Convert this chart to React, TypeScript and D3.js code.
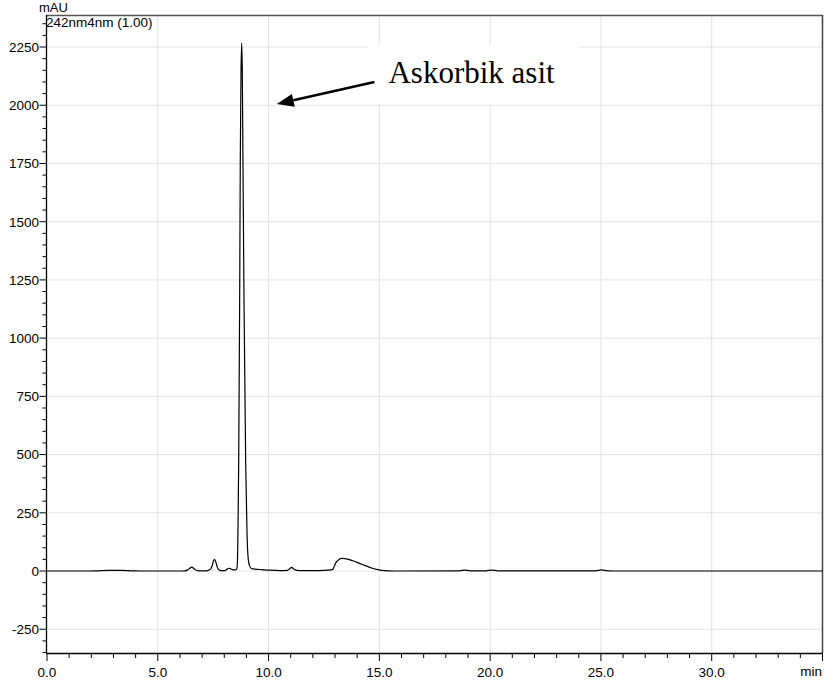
import React from "react";
import * as d3 from "d3";

// retention time (min) and detector response (mAU)
const timeMin = [
  0, 1.5, 2.2, 2.8, 3.3, 3.9, 4.5, 6.0, 6.2, 6.35, 6.45, 6.53, 6.6, 6.68, 6.8,
  7.0, 7.25, 7.38, 7.46, 7.52, 7.56, 7.6, 7.66, 7.72, 7.8, 7.95, 8.08, 8.18,
  8.23, 8.3, 8.4, 8.5, 8.56, 8.59, 8.62, 8.651, 8.696, 8.723, 8.755, 8.786,
  8.815, 8.845, 8.89, 8.967, 9.03, 9.084, 9.15, 9.24, 9.4, 9.7, 10.0, 10.5,
  10.85, 10.95, 11.04, 11.12, 11.22, 11.4, 12.0, 12.5, 12.8, 12.9, 12.97,
  13.07, 13.18, 13.3, 13.45, 13.6, 13.8, 14.0, 14.2, 14.43, 14.65, 14.88,
  15.1, 15.4, 16.0, 18.6, 18.86, 19.1, 19.8, 20.07, 20.35, 24.75, 25.03, 25.3,
  26.0, 35.0,
];
const signalMau = [
  0, 0, 1, 3, 3, 1, 0, 0, 1, 5, 12, 17, 13, 6, 2,
  1, 2, 8, 25, 45, 50, 44, 25, 9, 3, 1, 4, 11,
  12, 9, 5, 5, 8, 30, 180, 464, 1177, 1750, 2130, 2267,
  2140, 1750, 1177, 464, 150, 50, 20, 10, 8, 6, 4, 2,
  3, 10, 16, 10, 4, 2, 2, 3, 5, 7, 22,
  40, 50, 54, 53, 50, 44, 37, 29, 21, 13, 7,
  3, 1, 0, 1, 4, 1, 1, 4, 1, 1, 5, 1,
  0, 0,
];

const xTickValues = [0, 5, 10, 15, 20, 25, 30];
const xTickLabels = ["0.0", "5.0", "10.0", "15.0", "20.0", "25.0", "30.0"];
const yTickValues = [-250, 0, 250, 500, 750, 1000, 1250, 1500, 1750, 2000, 2250];
const yTickLabels = ["-250", "0", "250", "500", "750", "1000", "1250", "1500", "1750", "2000", "2250"];

const peakLabel = "Askorbik asit";

const W = 824;
const H = 689;
const font = "'Liberation Sans', Arial, sans-serif";

export default function App() {
  const x = d3.scaleLinear().domain([0, 35]).range([47, 822.5]);
  const y = d3.scaleLinear().domain([-352, 2387.5]).range([653, 15]);

  const points: [number, number][] = timeMin.map((t, i) => [t, signalMau[i]]);
  const line = d3
    .line<[number, number]>()
    .x((d) => x(d[0]))
    .y((d) => y(d[1]))
    .curve(d3.curveMonotoneX);

  const xMinor = d3.range(0, 36, 1).filter((t) => t % 5 !== 0);
  const yMinor = d3.range(-350, 2400, 50).filter((v) => v % 250 !== 0);

  // annotation, placed in data units
  const tip: [number, number] = [x(10.37), y(2005)];
  const tail: [number, number] = [x(14.78), y(2100)];
  const ang = Math.atan2(tail[1] - tip[1], tail[0] - tip[0]);
  const headLen = 17;
  const headHalf = 6.5;
  const bx = tip[0] + headLen * Math.cos(ang);
  const by = tip[1] + headLen * Math.sin(ang);
  const head = [
    tip,
    [bx - headHalf * Math.sin(ang), by + headHalf * Math.cos(ang)],
    [bx + headHalf * Math.sin(ang), by - headHalf * Math.cos(ang)],
  ]
    .map((p) => p.join(","))
    .join(" ");

  return (
    <svg
      width={W}
      height={H}
      style={{ position: "absolute", left: 0, top: 0, background: "#fff" }}
    >
      {/* grid */}
      {xTickValues
        .filter((t) => t > 0)
        .map((t) => (
          <line key={"gx" + t} x1={x(t)} x2={x(t)} y1={15} y2={653} stroke="#e3e3e3" strokeWidth={1} />
        ))}
      {yTickValues.map((v) => (
        <line key={"gy" + v} x1={47} x2={822} y1={y(v)} y2={y(v)} stroke="#e3e3e3" strokeWidth={1} />
      ))}

      {/* label backdrop */}
      <rect
        x={x(14.46)}
        y={y(2259)}
        width={x(24.0) - x(14.46)}
        height={y(2005) - y(2259)}
        fill="#fff"
      />

      {/* frame */}
      <line x1={46} x2={823} y1={15.5} y2={15.5} stroke="#555" strokeWidth={1.3} />
      <line x1={822.5} x2={822.5} y1={15} y2={653} stroke="#444" strokeWidth={1.5} />
      <line x1={46.5} x2={46.5} y1={15} y2={653.5} stroke="#000" strokeWidth={1.3} />
      <line x1={46} x2={823} y1={653.5} y2={653.5} stroke="#000" strokeWidth={1.3} />

      {/* y ticks */}
      {yTickValues.map((v, i) => (
        <g key={"yt" + v}>
          <line x1={39.5} x2={46} y1={y(v)} y2={y(v)} stroke="#000" />
          <text
            x={39}
            y={y(v)}
            dy="0.36em"
            textAnchor="end"
            fontFamily={font}
            fontSize={13.5}
            fill="#000"
          >
            {yTickLabels[i]}
          </text>
        </g>
      ))}
      {yMinor.map((v) => (
        <line key={"ym" + v} x1={42.5} x2={46} y1={y(v)} y2={y(v)} stroke="#000" />
      ))}

      {/* x ticks */}
      {xTickValues.map((t, i) => (
        <g key={"xt" + t}>
          <line x1={x(t)} x2={x(t)} y1={653} y2={661} stroke="#000" />
          <text
            x={x(t)}
            y={676.5}
            textAnchor="middle"
            fontFamily={font}
            fontSize={13.5}
            fill="#000"
          >
            {xTickLabels[i]}
          </text>
        </g>
      ))}
      <line x1={x(35)} x2={x(35)} y1={653} y2={661} stroke="#000" />
      {xMinor.map((t) => (
        <line key={"xm" + t} x1={x(t)} x2={x(t)} y1={653} y2={658} stroke="#000" />
      ))}
      <text x={822} y={675.5} textAnchor="end" fontFamily={font} fontSize={13.5} fill="#000">
        min
      </text>

      {/* titles */}
      <text x={39} y={12} fontFamily={font} fontSize={13} fill="#000">
        mAU
      </text>
      <text x={46} y={27} fontFamily={font} fontSize={13.5} fill="#000">
        242nm4nm (1.00)
      </text>

      {/* trace */}
      <path d={line(points) ?? ""} fill="none" stroke="#000" strokeWidth={1.2} />

      {/* annotation */}
      <line
        x1={tail[0]}
        y1={tail[1]}
        x2={bx}
        y2={by}
        stroke="#000"
        strokeWidth={2.5}
      />
      <polygon points={head} fill="#000" />
      <text
        x={x(15.41)}
        y={y(2095)}
        fontFamily="'Liberation Serif', 'Times New Roman', serif"
        fontSize={31}
        fill="#000"
      >
        {peakLabel}
      </text>
    </svg>
  );
}
